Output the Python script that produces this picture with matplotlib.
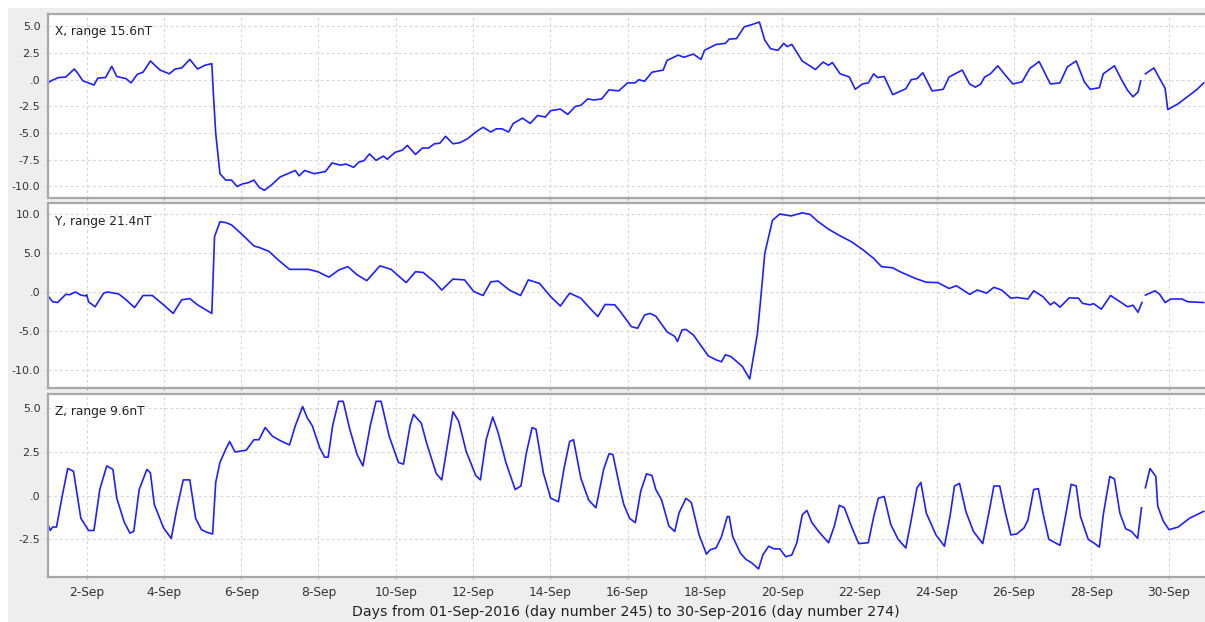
import numpy as np
import matplotlib
matplotlib.use('Agg')
import matplotlib.pyplot as plt
from matplotlib.patches import Rectangle

# ---------------- data (days since 01-Sep-2016 00:00, values in nT) ----------------
x_days = [0.00, 0.08, 0.27, 0.46, 0.68, 0.76, 0.90, 1.19, 1.29, 1.49, 1.65, 1.78, 2.02, 2.15,
          2.31, 2.46, 2.65, 2.90, 3.14, 3.29, 3.46, 3.67, 3.87, 4.06, 4.24, 4.28, 4.34, 4.45,
          4.60, 4.75, 4.89, 5.04, 5.18, 5.33, 5.47, 5.60, 5.77, 6.01, 6.40, 6.50, 6.64, 6.89,
          7.18, 7.35, 7.57, 7.71, 7.91, 8.05, 8.17, 8.32, 8.49, 8.68, 8.78, 8.98, 9.17, 9.30,
          9.51, 9.69, 9.85, 10.00, 10.14, 10.29, 10.48, 10.66, 10.87, 11.07, 11.26, 11.46,
          11.60, 11.75, 11.92, 12.04, 12.28, 12.48, 12.67, 12.87, 13.01, 13.26, 13.45, 13.65,
          13.79, 13.97, 14.13, 14.33, 14.52, 14.77, 15.00, 15.19, 15.29, 15.44, 15.63, 15.92,
          16.02, 16.31, 16.46, 16.70, 16.90, 16.99, 17.29, 17.53, 17.63, 17.82, 18.02, 18.21,
          18.41, 18.55, 18.70, 18.89, 19.04, 19.13, 19.25, 19.52, 19.86, 20.06, 20.20, 20.30,
          20.50, 20.74, 20.89, 21.08, 21.23, 21.37, 21.47, 21.64, 21.86, 22.20, 22.34, 22.49,
          22.64, 22.88, 23.17, 23.32, 23.66, 23.85, 24.00, 24.14, 24.24, 24.39, 24.58, 24.78,
          24.97, 25.21, 25.41, 25.65, 25.94, 26.19, 26.38, 26.61, 26.82, 26.97, 27.21, 27.31,
          27.60, 27.79, 27.94, 28.08, 28.21, 28.28, 28.34, 28.40, 28.62, 28.77, 28.91, 28.98,
          29.25, 29.54, 29.74, 29.91]
x_vals = [-0.30, -0.10, 0.20, 0.25, 1.00, 0.65, -0.10, -0.50, 0.15, 0.20, 1.25, 0.30, 0.10, -0.30,
          0.50, 0.70, 1.75, 0.90, 0.55, 1.00, 1.10, 1.90, 1.00, 1.35, 1.50, -1.30, -5.00, -8.80,
          -9.40, -9.40, -10.00, -9.75, -9.65, -9.40, -10.10, -10.35, -9.90, -9.10, -8.50, -9.00, -8.50, -8.80,
          -8.60, -7.80, -8.00, -7.90, -8.20, -7.70, -7.60, -6.95, -7.55, -7.15, -7.45, -6.80, -6.60, -6.15,
          -7.00, -6.40, -6.40, -6.00, -5.95, -5.30, -6.00, -5.90, -5.50, -4.90, -4.45, -4.90,
          -4.60, -4.60, -4.90, -4.10, -3.60, -4.10, -3.35, -3.50, -2.90, -2.75, -3.25, -2.50,
          -2.40, -1.80, -1.90, -1.80, -0.95, -1.05, -0.30, -0.30, 0.00, -0.15, 0.70, 0.90,
          1.80, 2.30, 2.10, 2.40, 1.90, 2.75, 3.30, 3.40, 3.80, 3.85, 4.95, 5.15,
          5.40, 3.70, 2.90, 2.75, 3.40, 3.10, 3.30, 1.75, 0.95, 1.65, 1.35, 1.60,
          0.55, 0.25, -0.90, -0.40, -0.30, 0.55, 0.20, 0.30, -1.40, -0.85, 0.00, 0.10,
          0.65, -1.05, -0.90, 0.25, 0.90, -0.40, -0.70, -0.40, 0.25, 0.55, 1.30, 0.40,
          -0.40, -0.20, 1.05, 1.70, -0.40, -0.30, 1.20, 1.75, -0.20, -0.90, -0.75, 0.55,
          1.30, -0.05, -1.00, -1.60, -1.15, -0.10, np.nan, 0.55, 1.10, 0.10, -0.80, -2.80,
          -2.25, -1.45, -0.90, -0.30]

y_days = [0.00, 0.12, 0.25, 0.46, 0.56, 0.71, 0.85, 0.97, 1.00, 1.05, 1.22, 1.44, 1.54, 1.83,
          2.02, 2.24, 2.46, 2.70, 2.99, 3.24, 3.46, 3.67, 3.87, 4.24, 4.31, 4.45, 4.60, 4.75,
          5.04, 5.33, 5.47, 5.72, 5.96, 6.25, 6.74, 6.98, 7.27, 7.52, 7.76, 8.00, 8.25, 8.59,
          8.88, 9.27, 9.51, 9.71, 10.00, 10.19, 10.48, 10.78, 11.02, 11.26, 11.46, 11.65, 11.94,
          12.23, 12.43, 12.72, 13.01, 13.26, 13.50, 13.79, 13.99, 14.23, 14.42, 14.67, 14.81,
          15.10, 15.26, 15.44, 15.58, 15.73, 16.02, 16.22, 16.29, 16.41, 16.51, 16.70, 17.09,
          17.29, 17.43, 17.53, 17.68, 17.97, 18.16, 18.36, 18.45, 18.55, 18.75, 18.94, 19.23,
          19.52, 19.72, 19.91, 20.20, 20.50, 20.79, 21.08, 21.37, 21.57, 21.86, 22.05, 22.44,
          22.73, 23.03, 23.32, 23.51, 23.85, 24.05, 24.29, 24.48, 24.68, 24.92, 25.07, 25.36,
          25.51, 25.75, 25.94, 26.04, 26.19, 26.43, 26.67, 26.77, 26.97, 27.06, 27.26, 27.50,
          27.74, 27.94, 28.08, 28.21, 28.31, 28.35, 28.40, 28.65, 28.77, 28.91, 29.06, 29.35,
          29.49, 29.91]
y_vals = [-0.50, -1.25, -1.35, -0.30, -0.35, 0.00, -0.40, -0.50, -0.35, -1.25, -1.90, -0.15, 0.00, -0.25,
          -1.00, -2.00, -0.45, -0.45, -1.65, -2.75, -1.00, -0.85, -1.65, -2.75, 7.10, 9.00, 8.90, 8.60,
          7.30, 5.90, 5.70, 5.20, 4.10, 2.90, 2.90, 2.60, 1.90, 2.80, 3.25, 2.20, 1.45, 3.35,
          2.90, 1.20, 2.60, 2.50, 1.30, 0.25, 1.65, 1.55, 0.05, -0.45, 1.30, 1.40, 0.25,
          -0.45, 1.55, 1.10, -0.60, -1.80, -0.15, -0.80, -1.90, -3.15, -1.60, -1.65, -2.50,
          -4.45, -4.65, -2.95, -2.75, -3.10, -5.10, -5.70, -6.35, -4.85, -4.80, -5.50, -8.20,
          -8.70, -8.95, -8.05, -8.30, -9.55, -11.15, -5.30, -0.60, 4.95, 9.20, 10.00, 9.75,
          10.15, 9.95, 9.10, 8.05, 7.20, 6.45, 5.45, 4.30, 3.25, 3.10, 2.60, 1.75,
          1.25, 1.20, 0.45, 0.80, -0.30, 0.25, -0.15, 0.60, 0.25, -0.80, -0.70, -0.90,
          0.15, -0.60, -1.65, -1.30, -1.95, -0.75, -0.80, -1.45, -1.65, -1.50, -2.20, -0.45,
          -1.25, -1.90, -1.70, -2.60, -1.35, np.nan, -0.40, 0.15, -0.30, -1.35, -0.90, -0.90,
          -1.25, -1.35]

z_days = [0.00, 0.06, 0.12, 0.22, 0.37, 0.51, 0.66, 0.85, 1.05, 1.19, 1.34, 1.52, 1.68, 1.78,
          1.97, 2.12, 2.22, 2.36, 2.56, 2.65, 2.75, 2.99, 3.19, 3.33, 3.50, 3.67, 3.82, 3.97,
          4.11, 4.26, 4.34, 4.45, 4.60, 4.70, 4.84, 5.13, 5.33, 5.46, 5.62, 5.81, 6.01, 6.25,
          6.40, 6.59, 6.71, 6.84, 7.03, 7.16, 7.25, 7.37, 7.52, 7.64, 7.81, 8.00, 8.15, 8.34,
          8.49, 8.62, 8.83, 9.07, 9.20, 9.37, 9.46, 9.66, 9.80, 10.05, 10.19, 10.34, 10.48,
          10.63, 10.82, 11.07, 11.19, 11.34, 11.51, 11.65, 11.85, 12.09, 12.24, 12.38, 12.53,
          12.63, 12.82, 13.01, 13.21, 13.35, 13.50, 13.60, 13.79, 13.99, 14.18, 14.38, 14.52,
          14.62, 14.81, 14.90, 15.05, 15.20, 15.34, 15.49, 15.63, 15.73, 15.88, 16.07, 16.22,
          16.33, 16.51, 16.65, 16.85, 17.04, 17.14, 17.29, 17.43, 17.58, 17.63, 17.72, 17.92,
          18.06, 18.21, 18.39, 18.50, 18.65, 18.79, 18.94, 19.09, 19.25, 19.38, 19.52, 19.64,
          19.77, 19.96, 20.20, 20.35, 20.48, 20.61, 20.79, 20.98, 21.23, 21.37, 21.49, 21.64,
          21.81, 22.00, 22.20, 22.34, 22.49, 22.59, 22.73, 22.98, 23.20, 23.35, 23.46, 23.59,
          23.76, 23.95, 24.19, 24.34, 24.48, 24.63, 24.78, 24.92, 25.07, 25.26, 25.36, 25.51,
          25.63, 25.75, 25.90, 26.19, 26.33, 26.48, 26.61, 26.72, 26.92, 27.06, 27.21, 27.31,
          27.48, 27.60, 27.74, 27.89, 28.04, 28.20, 28.30, 28.35, 28.40, 28.52, 28.67, 28.72,
          28.86, 29.01, 29.25, 29.54, 29.91]
z_vals = [-1.65, -2.00, -1.80, -1.80, 0.00, 1.55, 1.40, -1.30, -2.00, -2.00, 0.35, 1.70, 1.50, -0.15,
          -1.50, -2.15, -2.05, 0.35, 1.50, 1.30, -0.50, -1.85, -2.45, -0.80, 0.90, 0.90, -1.30, -1.95,
          -2.10, -2.20, 0.75, 1.90, 2.65, 3.10, 2.50, 2.60, 3.20, 3.20, 3.90, 3.40, 3.15, 2.90,
          4.00, 5.10, 4.45, 4.00, 2.75, 2.20, 2.20, 4.05, 5.40, 5.40, 3.80, 2.35, 1.70, 4.00,
          5.40, 5.40, 3.40, 1.90, 1.80, 4.00, 4.65, 4.15, 3.00, 1.25, 0.90, 2.90, 4.80,
          4.25, 2.55, 1.15, 0.90, 3.20, 4.50, 3.60, 1.90, 0.35, 0.55, 2.45, 3.90,
          3.80, 1.30, -0.15, -0.35, 1.50, 3.10, 3.20, 1.00, -0.25, -0.70, 1.50, 2.40,
          2.35, 0.35, -0.50, -1.30, -1.55, 0.25, 1.25, 1.15, 0.35, -0.25, -1.75, -2.05,
          -1.00, -0.15, -0.40, -2.25, -3.35, -3.10, -3.00, -2.35, -1.20, -1.20, -2.35, -3.30,
          -3.65, -3.85, -4.20, -3.40, -2.90, -3.05, -3.05, -3.50, -3.40, -2.70, -1.10, -0.85,
          -1.55, -2.10, -2.70, -1.75, -0.55, -0.70, -1.75, -2.75, -2.70, -1.20, -0.15, -0.05,
          -1.65, -2.50, -3.00, -1.40, 0.45, 0.75, -1.00, -2.25, -2.90, -1.10, 0.55, 0.70,
          -0.95, -2.05, -2.75, -1.10, 0.55, 0.55, -1.00, -2.25, -2.20, -1.85, -1.40, 0.35,
          0.40, -1.00, -2.50, -2.85, -1.20, 0.65, 0.55, -1.20, -2.50, -2.70, -2.95, -1.10,
          1.10, 0.95, -1.00, -1.90, -2.05, -2.45, -0.70, np.nan, 0.45, 1.55, 1.10, -0.60,
          -1.45, -1.95, -1.80, -1.30, -0.90]

panel_titles = ["X, range 15.6nT", "Y, range 21.4nT", "Z, range 9.6nT"]
x_tick_days = [1, 3, 5, 7, 9, 11, 13, 15, 17, 19, 21, 23, 25, 27, 29]
x_tick_labels = ["2-Sep", "4-Sep", "6-Sep", "8-Sep", "10-Sep", "12-Sep", "14-Sep", "16-Sep",
                 "18-Sep", "20-Sep", "22-Sep", "24-Sep", "26-Sep", "28-Sep", "30-Sep"]
x_yticks = [5.0, 2.5, 0.0, -2.5, -5.0, -7.5, -10.0]
x_ytick_labels = ["5.0", "2.5", ".0", "-2.5", "-5.0", "-7.5", "-10.0"]
y_yticks = [10.0, 5.0, 0.0, -5.0, -10.0]
y_ytick_labels = ["10.0", "5.0", ".0", "-5.0", "-10.0"]
z_yticks = [5.0, 2.5, 0.0, -2.5]
z_ytick_labels = ["5.0", "2.5", ".0", "-2.5"]
x_axis_label = "Days from 01-Sep-2016 (day number 245) to 30-Sep-2016 (day number 274)"

# ---------------- layout ----------------
W, H = 1205, 622
fig = plt.figure(figsize=(W / 100, H / 100), dpi=100)
fig.patch.set_facecolor('white')
fig.patches.append(Rectangle((8 / W, 0), 1, 1 - 8 / H, transform=fig.transFigure,
                             facecolor='#EEEEEE', edgecolor='none', zorder=-10))

left_px, right_px = 48, 48 + 30 * 38.64
panels = [  # (top px, bottom px, ylim)
    (14.0, 197.5, (-11.03, 6.15)),
    (203.3, 388.3, (-12.35, 11.37)),
    (394.0, 577.3, (-4.68, 5.82)),
]
series = [(x_days, x_vals, x_yticks, x_ytick_labels),
          (y_days, y_vals, y_yticks, y_ytick_labels),
          (z_days, z_vals, z_yticks, z_ytick_labels)]

for i, ((top, bot, ylim), (d, v, yt, ytl)) in enumerate(zip(panels, series)):
    ax = fig.add_axes([left_px / W, 1 - bot / H, (right_px - left_px) / W, (bot - top) / H])
    ax.set_facecolor('white')
    ax.plot(d, v, color='#2020FF', lw=1.2, solid_joinstyle='round')
    ax.set_xlim(0, 30)
    ax.set_ylim(*ylim)
    ax.set_yticks(yt)
    ax.set_yticklabels(ytl)
    ax.set_xticks(x_tick_days)
    if i == 2:
        ax.set_xticklabels(x_tick_labels, fontsize=8.8)
    else:
        ax.set_xticklabels([])
    ax.grid(True, color='#D6D6D6', linestyle=(0, (2.5, 2.5)), lw=0.8)
    ax.set_axisbelow(True)
    for s in ax.spines.values():
        s.set_color('#A8A8A8')
        s.set_linewidth(1.6)
    ax.tick_params(axis='both', length=1.5, width=0.8, color='#A8A8A8',
                   labelcolor='#333333')
    ax.tick_params(axis='y', pad=4, labelsize=8)
    ax.tick_params(axis='x', pad=5)
    ax.annotate(panel_titles[i], xy=(0, 1), xycoords='axes fraction',
                xytext=(7, -18), textcoords='offset pixels', va='center', ha='left',
                fontsize=8.7, color='#222222')

fig.text(626 / W, 1 - 612 / H, x_axis_label, ha='center', va='center',
         fontsize=10.2, color='#222222')

fig.savefig('out.png', dpi=100, facecolor=fig.get_facecolor())
